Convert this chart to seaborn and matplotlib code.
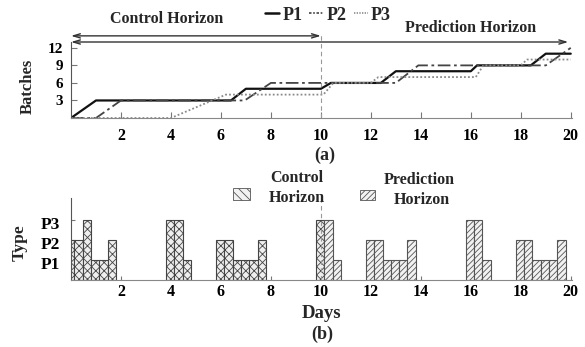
import matplotlib
matplotlib.use("Agg")
import matplotlib.pyplot as plt
import matplotlib.transforms as mtransforms
from matplotlib.patches import Rectangle
from matplotlib.lines import Line2D
import seaborn as sns
import pandas as pd

# ---------------- data ----------------
# (a) cumulative batches produced per product
p1_days = [0, 1, 6.4, 7, 10, 10.4, 12.4, 13, 16, 16.25, 18.4, 19, 20]
p1_batches = [0, 3, 3, 5, 5, 6, 6, 8, 8, 9, 9, 11, 11]
p2_days = [0, 1, 2, 6.95, 8, 13, 13.9, 19, 20]
p2_batches = [0, 0, 3, 3, 6, 6, 9, 9, 12]
p3_days = [0, 4, 6.2, 10.1, 10.5, 12, 12.3, 16.2, 16.5, 18, 18.25, 20]
p3_batches = [0, 0, 4, 4, 6, 6, 7, 7, 9, 9, 10, 10]
products = ["P1", "P2", "P3"]

# (b) product type processed in consecutive 8-hour shifts, per campaign
campaign_start_days = [-0.2, 3.8, 5.8, 9.8, 11.8, 15.8, 17.8]
campaign_types = [
    [2, 2, 3, 1, 1, 2],
    [3, 3, 1],
    [2, 2, 1, 1, 1, 2],
    [3, 3, 1],
    [2, 2, 1, 1, 1, 2],
    [3, 3, 1],
    [2, 2, 1, 1, 1, 2],
]
shift_length = 1 / 3
control_end_day = 10
x_ticks = [2, 4, 6, 8, 10, 12, 14, 16, 18, 20]
batch_ticks = [3, 6, 9, 12]
type_labels = ["P1", "P2", "P3"]

# ---------------- style ----------------
sns.set_style("ticks")
plt.rcParams["font.family"] = ["Liberation Serif", "DejaVu Serif"]
plt.rcParams["font.weight"] = "bold"
plt.rcParams["hatch.linewidth"] = 0.6

W, H = 585, 347
fig = plt.figure(figsize=(W / 100, H / 100), dpi=100)


def fx(px):
    return px / W


def fy(py):
    return 1 - py / H


colors = {"P1": "#111111", "P2": "#444444", "P3": "#8a8a8a"}

# ---------------- (a) ----------------
ax1 = fig.add_axes([fx(71), fy(118), 501 / W, 76 / H])
df = pd.concat([
    pd.DataFrame({"Day": p1_days, "Batches": p1_batches, "Product": "P1"}),
    pd.DataFrame({"Day": p2_days, "Batches": p2_batches, "Product": "P2"}),
    pd.DataFrame({"Day": p3_days, "Batches": p3_batches, "Product": "P3"}),
])
sns.lineplot(data=df, x="Day", y="Batches", hue="Product", style="Product",
             estimator=None, sort=False, ax=ax1, legend=False,
             palette=colors,
             dashes={"P1": "", "P2": (7, 2, 1.5, 2), "P3": (1, 1.2)})
for ln, lw in zip(ax1.lines, [1.6, 1.3, 1.3]):
    ln.set_linewidth(lw)

ax1.set_xlim(0, 20.05)
ax1.set_ylim(0, 13)
ax1.set_xticks(x_ticks)
ax1.set_yticks(batch_ticks)
ax1.tick_params(direction="in", length=4, width=0.8, colors="#777777",
                labelcolor="black", labelsize=11.5)
ax1.tick_params(axis="x", pad=7)
ax1.tick_params(axis="y", pad=6, labelsize=11)
for s in ["top", "right"]:
    ax1.spines[s].set_visible(False)
ax1.spines["left"].set_color("#555555")
ax1.spines["bottom"].set_color("#888888")
ax1.set_xlabel("")
ax1.set_ylabel("Batches", fontsize=12, fontweight="bold", va="center")
ax1.yaxis.set_label_coords(-0.086, 0.42)

# horizon arrows
ax1.annotate("", xy=(0, 14.05), xytext=(control_end_day, 14.05),
             arrowprops=dict(arrowstyle="<->,head_length=0.5,head_width=0.15",
                             lw=1.0, color="#333333", shrinkA=0, shrinkB=0),
             annotation_clip=False)
ax1.annotate("", xy=(0, 13), xytext=(19.9, 13),
             arrowprops=dict(arrowstyle="<->,head_length=0.5,head_width=0.15",
                             lw=1.0, color="#333333", shrinkA=0, shrinkB=0),
             annotation_clip=False)
ax1.axvline(control_end_day, ymin=0, ymax=14.5 / 13, clip_on=False,
            color="#999999", lw=0.8, ls=(0, (4, 3)))

fig.text(fx(167), fy(19), "Control Horizon", ha="center", va="center",
         fontsize=11.5, fontweight="bold")
fig.text(fx(471), fy(28), "Prediction Horizon", ha="center", va="center",
         fontsize=11.5, fontweight="bold")
legend_handles = [
    Line2D([], [], color=colors["P1"], lw=1.8),
    Line2D([], [], color=colors["P2"], lw=1.2, ls=(0, (1.5, 1, 1, 1))),
    Line2D([], [], color=colors["P3"], lw=1.2, ls=(0, (0.8, 0.8))),
]
fig.legend(legend_handles, products, loc="center",
           bbox_to_anchor=(fx(328), fy(15)), ncol=3, frameon=False,
           fontsize=13, handlelength=0.8, handletextpad=0.15,
           columnspacing=0.4, borderpad=0)
fig.text(fx(325), fy(155), "(a)", ha="center", va="center", fontsize=13,
         fontweight="bold")

# ---------------- (b) ----------------
ax2 = fig.add_axes([fx(71), fy(280), 501 / W, 82 / H])
ctrl_x, ctrl_h, pred_x, pred_h = [], [], [], []
for start, types in zip(campaign_start_days, campaign_types):
    for i, t in enumerate(types):
        x = start + i * shift_length
        if x < control_end_day:
            ctrl_x.append(x)
            ctrl_h.append(t)
        else:
            pred_x.append(x)
            pred_h.append(t)
ax2.bar(ctrl_x, ctrl_h, width=shift_length, align="edge", facecolor="#eeeeee",
        edgecolor="#444444", hatch="xxxx", lw=0.8)
ax2.bar(pred_x, pred_h, width=shift_length, align="edge", facecolor="#f2f2f2",
        edgecolor="#555555", hatch="//////", lw=0.8)
ax2.axvline(control_end_day, color="#999999", lw=0.8, ls=(0, (4, 3)))

ax2.set_xlim(0, 20.05)
ax2.set_ylim(0, 4.1)
ax2.set_xticks(x_ticks)
ax2.set_yticks([1, 2, 3])
ax2.set_yticklabels(type_labels)
ax2.tick_params(direction="in", length=3, width=0.8, colors="#777777",
                labelcolor="black", labelsize=11.5)
ax2.tick_params(axis="x", pad=3)
ax2.tick_params(axis="y", pad=8, labelsize=12.5)
off = mtransforms.ScaledTranslation(0, -3 / 100, fig.dpi_scale_trans)
for lab in ax2.get_yticklabels():
    lab.set_transform(lab.get_transform() + off)
for s in ["top", "right"]:
    ax2.spines[s].set_visible(False)
ax2.spines["left"].set_color("#555555")
ax2.spines["bottom"].set_color("#888888")
ax2.set_xlabel("Days", fontsize=13.5, fontweight="bold")
ax2.xaxis.set_label_coords(0.501, -0.30)
ax2.set_ylabel("Type", fontsize=12.5, fontweight="bold", va="center")
ax2.yaxis.set_label_coords(-0.102, 0.45)
fig.text(fx(322), fy(334), "(b)", ha="center", va="center", fontsize=13,
         fontweight="bold")

# legend for horizons
fig.add_artist(Rectangle((fx(233), fy(200)), 17 / W, 12 / H,
                         transform=fig.transFigure, facecolor="#f2f2f2",
                         edgecolor="#555555", hatch="\\\\\\\\", lw=0.6))
fig.add_artist(Rectangle((fx(360), fy(200)), 15 / W, 10 / H,
                         transform=fig.transFigure, facecolor="#f2f2f2",
                         edgecolor="#555555", hatch="//////", lw=0.6))
for txt, (px, py) in [("Control", (297, 178)), ("Horizon", (297, 198)),
                      ("Prediction", (419, 180)), ("Horizon", (422, 200))]:
    fig.text(fx(px), fy(py), txt, ha="center", va="center", fontsize=11.5,
             fontweight="bold")

fig.savefig("out.png", dpi=100)
